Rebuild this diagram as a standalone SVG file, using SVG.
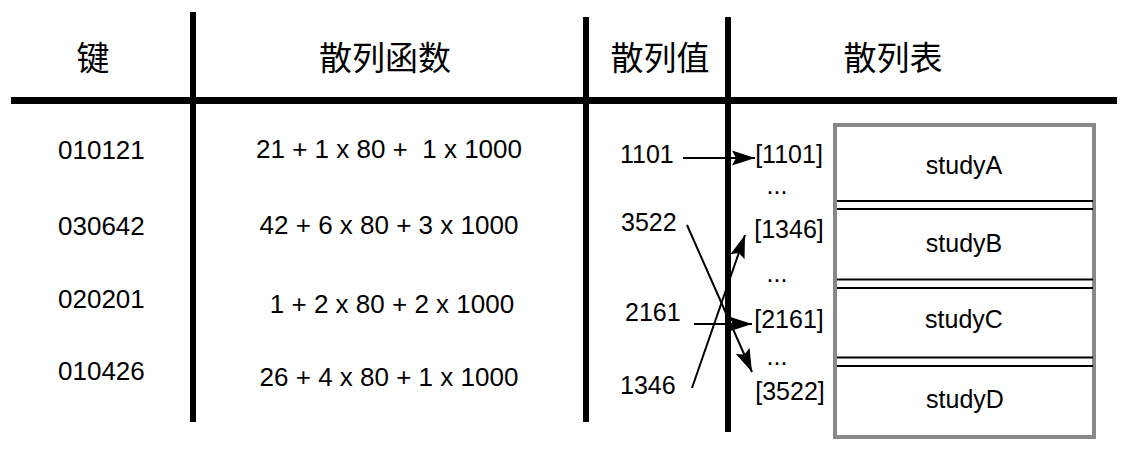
<svg xmlns="http://www.w3.org/2000/svg" width="1132" height="458" viewBox="0 0 1132 458">
<style>
text{font-family:"Liberation Sans",Arial,"Noto Sans CJK SC",sans-serif;fill:#000;white-space:pre}
.h{font-size:33px;font-family:"Noto Sans CJK SC","Liberation Sans",sans-serif;text-anchor:middle}
.k{font-size:26px}
.f{font-size:26px;text-anchor:middle}
.v{font-size:25px}
.s{font-size:25px;text-anchor:middle}
.c{font-size:25px;text-anchor:middle}
.rule{stroke:#000;stroke-width:6;fill:none}
.sep{stroke:#000;stroke-width:2;fill:none}
.arr{stroke:#000;stroke-width:2;fill:none;marker-end:url(#ah)}
</style>
<defs>
<marker id="ah" markerUnits="userSpaceOnUse" markerWidth="26" markerHeight="18" viewBox="-1 -9 26 18" refX="23" refY="0" orient="auto">
<path d="M0,-7.5 L23,0 L0,7.5 L4,0 Z" fill="#000"/>
</marker>
</defs>
<rect width="1132" height="458" fill="#fff"/>
<g id="grid">
<line class="rule" x1="11" y1="100.5" x2="1117" y2="100.5" style="stroke-width:7"/>
<line class="rule" x1="193" y1="12" x2="193" y2="422"/>
<line class="rule" x1="586" y1="17" x2="586" y2="422"/>
<line class="rule" x1="728" y1="17" x2="728" y2="432"/>
</g>
<g id="headers">
<text class="h" x="93" y="70">键</text>
<text class="h" x="385" y="70">散列函数</text>
<text class="h" x="660" y="70">散列值</text>
<text class="h" x="893" y="70">散列表</text>
</g>
<g id="keys">
<text class="k" x="58" y="159">010121</text>
<text class="k" x="58" y="235">030642</text>
<text class="k" x="58" y="308">020201</text>
<text class="k" x="58" y="380">010426</text>
</g>
<g id="functions">
<text class="f" x="389" y="158">21 + 1 x 80 +  1 x 1000</text>
<text class="f" x="389" y="234">42 + 6 x 80 + 3 x 1000</text>
<text class="f" x="392" y="313">1 + 2 x 80 + 2 x 1000</text>
<text class="f" x="389" y="386">26 + 4 x 80 + 1 x 1000</text>
</g>
<g id="hash-values">
<text class="v" x="620" y="163">1101</text>
<text class="v" x="621" y="231">3522</text>
<text class="v" x="625" y="321">2161</text>
<text class="v" x="620" y="394">1346</text>
</g>
<g id="slots">
<text class="s" x="789" y="163">[1101]</text>
<text class="s" x="777" y="194">...</text>
<text class="s" x="789" y="238">[1346]</text>
<text class="s" x="777" y="282">...</text>
<text class="s" x="789" y="328">[2161]</text>
<text class="s" x="777" y="365">...</text>
<text class="s" x="790" y="400">[3522]</text>
</g>
<g id="table">
<rect x="835" y="125" width="259" height="312" fill="#fff" stroke="#888" stroke-width="4"/>
<line class="sep" x1="837" y1="201" x2="1093" y2="201"/>
<line class="sep" x1="837" y1="209" x2="1093" y2="209"/>
<line class="sep" x1="837" y1="279.5" x2="1093" y2="279.5"/>
<line class="sep" x1="837" y1="288" x2="1093" y2="288"/>
<line class="sep" x1="837" y1="357.5" x2="1093" y2="357.5"/>
<line class="sep" x1="837" y1="366" x2="1093" y2="366"/>
<text class="c" x="964" y="174">studyA</text>
<text class="c" x="964" y="252">studyB</text>
<text class="c" x="964" y="328">studyC</text>
<text class="c" x="965" y="408">studyD</text>
</g>
<g id="connectors">
<line class="arr" x1="683" y1="158" x2="755" y2="158"/>
<line class="arr" x1="687" y1="225" x2="752" y2="372"/>
<line class="arr" x1="694" y1="324" x2="752" y2="324"/>
<line class="arr" x1="692" y1="388" x2="745" y2="235"/>
</g>
</svg>
